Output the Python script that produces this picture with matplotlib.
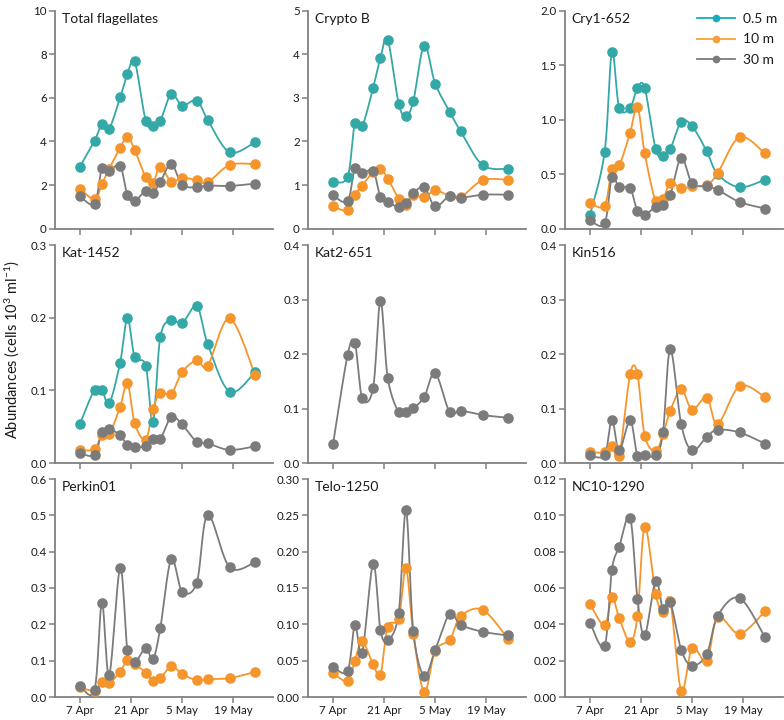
import numpy as np
import pandas as pd
import matplotlib
matplotlib.use("Agg")
import matplotlib.pyplot as plt
import matplotlib.dates as mdates
from matplotlib.lines import Line2D

plt.rcParams['font.family'] = ['Lato', 'DejaVu Sans']
plt.rcParams['mathtext.default'] = 'regular'

# ---------------- data ----------------
dates = pd.to_datetime(["2016-04-07", "2016-04-11", "2016-04-13", "2016-04-15",
                        "2016-04-18", "2016-04-20", "2016-04-22", "2016-04-25",
                        "2016-04-27", "2016-04-29", "2016-05-02", "2016-05-05",
                        "2016-05-09", "2016-05-12", "2016-05-18", "2016-05-25"])
tick_dates = pd.to_datetime(["2016-04-07", "2016-04-21", "2016-05-05", "2016-05-19"])
tick_labels = ["7 Apr", "21 Apr", "5 May", "19 May"]
depths = ["0.5 m", "10 m", "30 m"]

titles = ["Total flagellates", "Crypto B", "Cry1-652",
          "Kat-1452", "Kat2-651", "Kin516",
          "Perkin01", "Telo-1250", "NC10-1290"]

total_05 = [2.85, 4.03, 4.79, 4.59, 6.02, 7.10, 7.67, 4.96, 4.70, 4.95, 6.17, 5.65, 5.88, 4.99, 3.51, 3.97]
total_10 = [1.84, 1.35, 2.05, 2.75, 3.71, 4.21, 3.61, 2.36, 2.10, 2.85, 2.16, 2.34, 2.22, 2.13, 2.92, 2.96]
total_30 = [1.49, 1.15, 2.79, 2.65, 2.89, 1.53, 1.26, 1.75, 1.65, 2.14, 2.97, 2.02, 1.90, 1.98, 1.96, 2.07]

cryb_05 = [1.08, 1.19, 2.42, 2.35, 3.23, 3.92, 4.33, 2.87, 2.59, 2.92, 4.20, 3.33, 2.68, 2.23, 1.46, 1.37]
cryb_10 = [0.51, 0.42, 0.77, 0.99, 1.30, 1.38, 1.15, 0.69, 0.54, 0.77, 0.72, 0.88, 0.75, 0.72, 1.11, 1.12]
cryb_30 = [0.77, 0.63, 1.40, 1.27, 1.33, 0.73, 0.62, 0.49, 0.58, 0.81, 0.95, 0.51, 0.76, 0.71, 0.78, 0.78]

cry1_05 = [0.124, 0.70, 1.62, 1.11, 1.11, 1.29, 1.29, 0.73, 0.67, 0.73, 0.98, 0.94, 0.71, 0.50, 0.38, 0.45]
cry1_10 = [0.24, 0.21, 0.545, 0.58, 0.88, 1.12, 0.69, 0.25, 0.27, 0.42, 0.37, 0.39, 0.40, 0.51, 0.84, 0.69]
cry1_30 = [0.076, 0.048, 0.47, 0.38, 0.37, 0.16, 0.13, 0.20, 0.22, 0.31, 0.65, 0.415, 0.39, 0.355, 0.245, 0.185]

kat_05 = [0.054, 0.101, 0.101, 0.082, 0.138, 0.199, 0.146, 0.134, 0.056, 0.173, 0.197, 0.192, 0.216, 0.164, 0.098, 0.125]
kat_10 = [0.018, 0.019, 0.039, 0.040, 0.077, 0.110, 0.0545, 0.032, 0.074, 0.097, 0.095, 0.125, 0.1415, 0.134, 0.199, 0.121]
kat_30 = [0.014, 0.011, 0.043, 0.047, 0.038, 0.025, 0.022, 0.023, 0.033, 0.033, 0.063, 0.053, 0.029, 0.027, 0.018, 0.023]

kat2_30 = [0.034, 0.198, 0.220, 0.119, 0.138, 0.298, 0.156, 0.093, 0.093, 0.1005, 0.121, 0.165, 0.093, 0.096, 0.088, 0.083]

kin_10 = [0.0196, 0.020, 0.032, 0.013, 0.163, 0.163, 0.050, 0.022, 0.053, 0.096, 0.135, 0.098, 0.120, 0.0716, 0.141, 0.121]
kin_30 = [0.014, 0.015, 0.079, 0.023, 0.078, 0.013, 0.015, 0.014, 0.056, 0.209, 0.071, 0.023, 0.048, 0.061, 0.056, 0.0355]

perk_10 = [0.027, 0.017, 0.040, 0.038, 0.070, 0.101, 0.091, 0.067, 0.045, 0.051, 0.084, 0.063, 0.046, 0.049, 0.052, 0.069]
perk_30 = [0.031, 0.020, 0.260, 0.060, 0.355, 0.128, 0.095, 0.135, 0.104, 0.189, 0.379, 0.290, 0.315, 0.501, 0.357, 0.371]

telo_10 = [0.033, 0.022, 0.050, 0.0765, 0.045, 0.0307, 0.0967, 0.108, 0.177, 0.0866, 0.0069, 0.0637, 0.0788, 0.111, 0.120, 0.080]
telo_30 = [0.0417, 0.0357, 0.0985, 0.061, 0.183, 0.092, 0.078, 0.1154, 0.257, 0.091, 0.0289, 0.0646, 0.1145, 0.0994, 0.0898, 0.0847]

nc10_10 = [0.0512, 0.0394, 0.0552, 0.0433, 0.0304, 0.0447, 0.0937, 0.0565, 0.047, 0.053, 0.0035, 0.027, 0.0197, 0.044, 0.0348, 0.0473]
nc10_30 = [0.041, 0.0282, 0.070, 0.0826, 0.0987, 0.0541, 0.034, 0.0639, 0.0482, 0.0521, 0.026, 0.0173, 0.0237, 0.0447, 0.0545, 0.0328]

panels = [
    {"0.5 m": total_05, "10 m": total_10, "30 m": total_30},
    {"0.5 m": cryb_05, "10 m": cryb_10, "30 m": cryb_30},
    {"0.5 m": cry1_05, "10 m": cry1_10, "30 m": cry1_30},
    {"0.5 m": kat_05, "10 m": kat_10, "30 m": kat_30},
    {"30 m": kat2_30},
    {"10 m": kin_10, "30 m": kin_30},
    {"10 m": perk_10, "30 m": perk_30},
    {"10 m": telo_10, "30 m": telo_30},
    {"10 m": nc10_10, "30 m": nc10_30},
]
ymax = [10, 5, 2.0, 0.3, 0.4, 0.4, 0.6, 0.30, 0.12]
ystep = [2, 1, 0.5, 0.1, 0.1, 0.1, 0.1, 0.05, 0.02]
yfmt = ["{:.0f}", "{:.0f}", "{:.1f}", "{:.1f}", "{:.1f}", "{:.1f}", "{:.1f}", "{:.2f}", "{:.2f}"]

# ---------------- style ----------------
colors = {"0.5 m": "#34A8A6", "10 m": "#F5952B", "30 m": "#7B7B7B"}
legend_colors = {"0.5 m": "#14AFBA", "10 m": "#F7A03C", "30 m": "#7B7B7B"}
spine_col = "#808080"
text_col = "#1a1a1a"

W, H = 784, 720
fig = plt.figure(figsize=(W / 100, H / 100), dpi=100)

col_left = [55, 308, 565]
row_top = [10.7, 245, 479]
aw, ah = 218, 218

xlim = (dates[0] - pd.Timedelta(days=6.85), dates[0] + pd.Timedelta(days=52.9))


def smooth_line(ax, x, y, color):
    """Excel-like smoothed line (Catmull-Rom Bezier) computed in display space."""
    xn = mdates.date2num(x)
    pts = ax.transData.transform(np.column_stack([xn, y]))
    n = len(pts)
    out = []
    t = np.linspace(0, 1, 30)[:, None]
    for i in range(n - 1):
        p0 = pts[i - 1] if i > 0 else pts[i]
        p1 = pts[i]
        p2 = pts[i + 1]
        p3 = pts[i + 2] if i + 2 < n else pts[i + 1]
        c1 = p1 + (p2 - p0) / 6.0
        c2 = p2 - (p3 - p1) / 6.0
        seg = ((1 - t) ** 3) * p1 + 3 * ((1 - t) ** 2) * t * c1 + 3 * (1 - t) * t ** 2 * c2 + t ** 3 * p2
        out.append(seg if i == 0 else seg[1:])
    curve = np.vstack(out)
    data = ax.transData.inverted().transform(curve)
    ax.plot(data[:, 0], data[:, 1], color=color, lw=1.3, zorder=2, clip_on=False)


for k in range(9):
    r, c = divmod(k, 3)
    left = col_left[c] / W
    bottom = 1 - (row_top[r] + ah) / H
    ax = fig.add_axes([left, bottom, aw / W, ah / H])
    ax.set_xlim(xlim)
    ax.set_ylim(0, ymax[k])
    for s in ["top", "right"]:
        ax.spines[s].set_visible(False)
    for s in ["left", "bottom"]:
        ax.spines[s].set_color(spine_col)
        ax.spines[s].set_linewidth(1.3)
    yt = np.arange(0, ymax[k] + ystep[k] / 2, ystep[k])
    ax.set_yticks(yt)
    ax.set_yticklabels([yfmt[k].format(v) for v in yt])
    ax.set_xticks(tick_dates)
    if r == 2:
        ax.set_xticklabels(tick_labels)
    else:
        ax.set_xticklabels([])
    ax.tick_params(axis="both", direction="out", length=4, width=1.1, color=spine_col,
                   labelsize=8.3, labelcolor=text_col, pad=2)
    ax.text(0.03, 0.99, titles[k], transform=ax.transAxes, ha="left", va="top",
            fontsize=10, color=text_col)
    for d in depths:
        if d in panels[k]:
            vals = panels[k][d]
            smooth_line(ax, dates, vals, colors[d])
            ax.plot(dates, vals, linestyle="none", marker="o", ms=6.6,
                    color=colors[d], zorder=3, clip_on=False)
    if k == 2:
        handles = [Line2D([0], [0], color=legend_colors[d], lw=1.3, marker="o", ms=4.5)
                   for d in depths]
        ax.legend(handles, depths, loc="upper right", bbox_to_anchor=(0.975, 0.99),
                  borderaxespad=0, borderpad=0,
                  frameon=False, fontsize=10, handlelength=2.7, handletextpad=0.6,
                  labelspacing=0.62, labelcolor=text_col)

fig.text(12 / W, 1 - 350 / H, "Abundances (cells 10$^3$ ml$^{-1}$)", rotation=90,
         ha="center", va="center", fontsize=10.5, color=text_col)

fig.savefig("out.png", dpi=100)
